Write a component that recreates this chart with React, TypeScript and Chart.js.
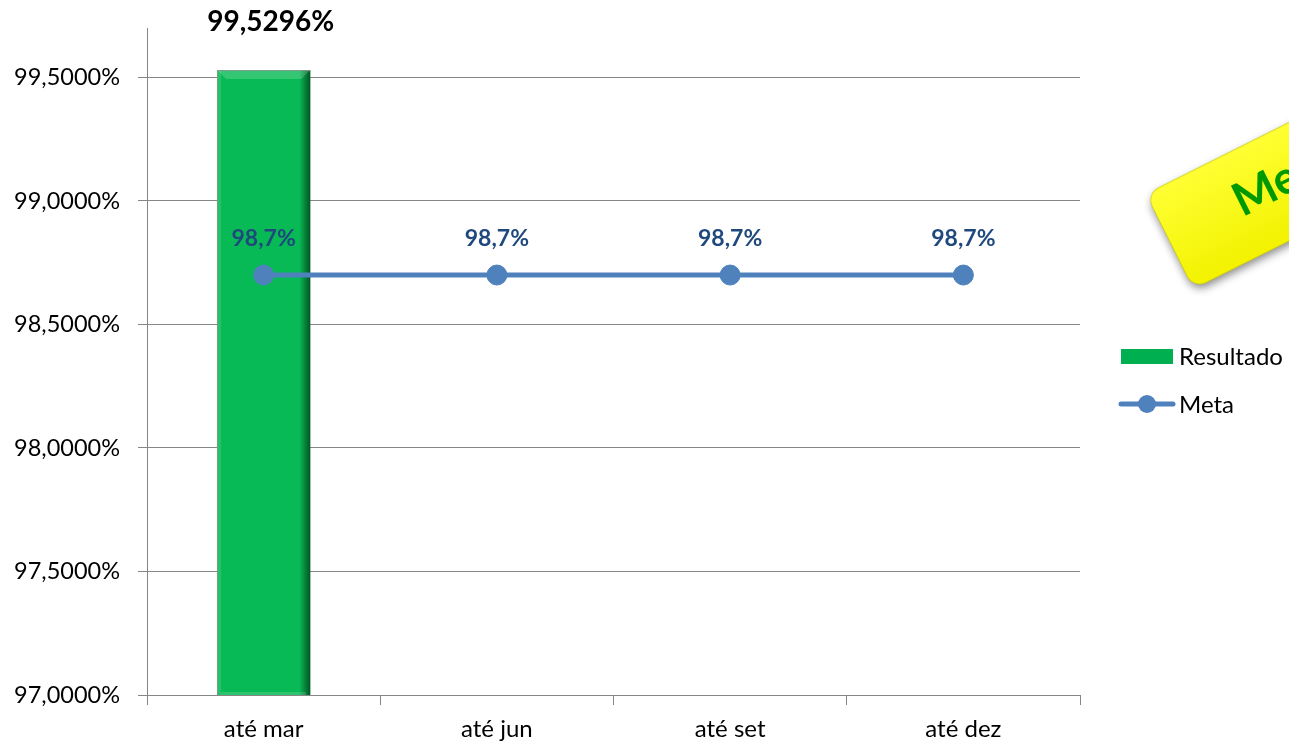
import React, { useEffect, useRef } from "react";
import { Chart, registerables } from "chart.js";
Chart.register(...registerables);

const categories = ["até mar", "até jun", "até set", "até dez"];
const resultado: (number | null)[] = [99.5296, null, null, null];
const meta = [98.7, 98.7, 98.7, 98.7];
const yTicks = [97, 97.5, 98, 98.5, 99, 99.5];
const yMin = 97;
const yMax = 99.7;
const seriesNames = ["Resultado", "Meta"];
const noteText = "Meta";

const FONT = "Lato, 'Open Sans', sans-serif";
const fmtAxis = (v: number) => v.toFixed(4).replace(".", ",") + "%";
const fmtBar = (v: number) => v.toFixed(4).replace(".", ",") + "%";
const fmtMeta = (v: number) => v.toFixed(1).replace(".", ",") + "%";

const decorPlugin = {
  id: "decor",
  afterDatasetDraw(chart: any, args: any) {
    if (args.index !== 0) return;
    const ctx = chart.ctx;
    const area = chart.chartArea;
    const m = chart.getDatasetMeta(0);
    m.data.forEach((el: any, i: number) => {
      if (resultado[i] == null) return;
      const w = el.width;
      const l = el.x - w / 2;
      const r = el.x + w / 2;
      const t = el.y;
      const b = Math.min(el.base, area.bottom);
      ctx.save();
      const g = ctx.createLinearGradient(r - 11, 0, r, 0);
      g.addColorStop(0, "rgba(0,40,15,0)");
      g.addColorStop(1, "rgba(0,40,15,0.7)");
      ctx.fillStyle = g;
      ctx.fillRect(r - 11, t, 11, b - t);
      ctx.fillStyle = "rgba(255,255,255,0.12)";
      ctx.fillRect(l, t, 4, b - t);
      ctx.beginPath();
      ctx.moveTo(l, t);
      ctx.lineTo(r, t);
      ctx.lineTo(r - 9, t + 9);
      ctx.lineTo(l + 9, t + 9);
      ctx.closePath();
      ctx.fillStyle = "rgba(255,255,255,0.18)";
      ctx.fill();
      ctx.fillStyle = "rgba(255,255,255,0.15)";
      ctx.fillRect(l + 4, b - 3, w - 8, 3);
      ctx.strokeStyle = "rgba(140,150,140,0.9)";
      ctx.lineWidth = 1;
      ctx.beginPath();
      ctx.moveTo(l + 0.5, b);
      ctx.lineTo(l + 0.5, t + 0.5);
      ctx.lineTo(r, t + 0.5);
      ctx.stroke();
      ctx.restore();
    });
  },
  afterDraw(chart: any) {
    const ctx = chart.ctx;
    ctx.save();
    const m0 = chart.getDatasetMeta(0);
    ctx.font = `bold 28px ${FONT}`;
    ctx.fillStyle = "#000000";
    ctx.textAlign = "center";
    ctx.textBaseline = "middle";
    m0.data.forEach((el: any, i: number) => {
      const v = resultado[i];
      if (v == null) return;
      ctx.fillText(fmtBar(v), el.x + 7, el.y - 48);
    });
    const m1 = chart.getDatasetMeta(1);
    ctx.font = `bold 23px ${FONT}`;
    ctx.fillStyle = "#1F497D";
    m1.data.forEach((el: any, i: number) => {
      ctx.fillText(fmtMeta(meta[i]), el.x, el.y - 36);
    });
    ctx.textAlign = "left";
    ctx.font = `24px ${FONT}`;
    ctx.fillStyle = "#00B050";
    ctx.fillRect(1121, 349, 52, 15);
    ctx.fillStyle = "#000000";
    ctx.fillText(seriesNames[0], 1179, 357);
    ctx.strokeStyle = "#4F81BD";
    ctx.lineWidth = 5;
    ctx.lineCap = "round";
    ctx.beginPath();
    ctx.moveTo(1121, 404);
    ctx.lineTo(1173, 404);
    ctx.stroke();
    ctx.beginPath();
    ctx.arc(1147, 404, 9, 0, Math.PI * 2);
    ctx.fillStyle = "#4F81BD";
    ctx.fill();
    ctx.fillStyle = "#000000";
    ctx.fillText(seriesNames[1], 1179, 405);
    ctx.translate(1146, 194);
    ctx.rotate((-26.6 * Math.PI) / 180);
    ctx.shadowColor = "rgba(0,0,0,0.45)";
    ctx.shadowBlur = 8;
    ctx.shadowOffsetX = 1;
    ctx.shadowOffsetY = 4;
    const ng = ctx.createLinearGradient(0, 0, 0, 106);
    ng.addColorStop(0, "#FFFF33");
    ng.addColorStop(1, "#F2F200");
    ctx.fillStyle = ng;
    ctx.beginPath();
    (ctx as any).roundRect(0, 0, 340, 106, 14);
    ctx.fill();
    ctx.shadowColor = "transparent";
    ctx.strokeStyle = "rgba(200,200,0,0.6)";
    ctx.lineWidth = 1;
    ctx.stroke();
    ctx.fillStyle = "#009A00";
    ctx.font = `bold 46px ${FONT}`;
    ctx.textBaseline = "alphabetic";
    ctx.fillText(noteText, 76, 64);
    ctx.restore();
  },
};

export default function App() {
  const ref = useRef<HTMLCanvasElement>(null);
  useEffect(() => {
    const chart = new Chart(ref.current as HTMLCanvasElement, {
      type: "bar",
      data: {
        labels: categories,
        datasets: [
          {
            type: "bar",
            label: seriesNames[0],
            data: resultado as any,
            backgroundColor: "#08BA55",
            borderWidth: 0,
            categoryPercentage: 1,
            barPercentage: 0.4,
            order: 1,
          },
          {
            type: "line",
            label: seriesNames[1],
            data: meta,
            borderColor: "#4F81BD",
            backgroundColor: "#4F81BD",
            borderWidth: 5,
            pointRadius: 10,
            pointBorderWidth: 1,
            pointBorderColor: "#4F81BD",
            pointBackgroundColor: "#4F81BD",
            order: 0,
          },
        ],
      },
      options: {
        animation: false,
        responsive: false,
        maintainAspectRatio: false,
        layout: { padding: { left: 0, top: 28, right: 209, bottom: 0 } },
        plugins: { legend: { display: false }, tooltip: { enabled: false } },
        scales: {
          x: {
            offset: true,
            grid: {
              offset: true,
              drawOnChartArea: false,
              drawTicks: true,
              tickLength: 10,
              color: "#868686",
            },
            border: { color: "#868686" },
            ticks: { color: "#000000", font: { family: FONT, size: 24 }, padding: 10 },
            afterFit: (s: any) => {
              s.height = 49;
              s.paddingLeft = 0;
              s.paddingRight = 0;
            },
          },
          y: {
            min: yMin,
            max: yMax,
            afterBuildTicks: (s: any) => {
              s.ticks = yTicks.map((v) => ({ value: v }));
            },
            grid: { color: "#868686", tickLength: 9 },
            border: { color: "#868686" },
            ticks: {
              color: "#000000",
              font: { family: FONT, size: 23.5 },
              padding: 18,
              callback: (v: any) => fmtAxis(Number(v)),
            },
            afterFit: (s: any) => {
              s.width = 147;
              s.paddingTop = 0;
              s.paddingBottom = 0;
            },
          },
        },
      },
      plugins: [decorPlugin],
    });
    return () => chart.destroy();
  }, []);
  return (
    <div style={{ position: "fixed", left: 0, top: 0, width: 1289, height: 744, background: "#fff" }}>
      <canvas ref={ref} width={1289} height={744} style={{ display: "block" }} />
    </div>
  );
}
